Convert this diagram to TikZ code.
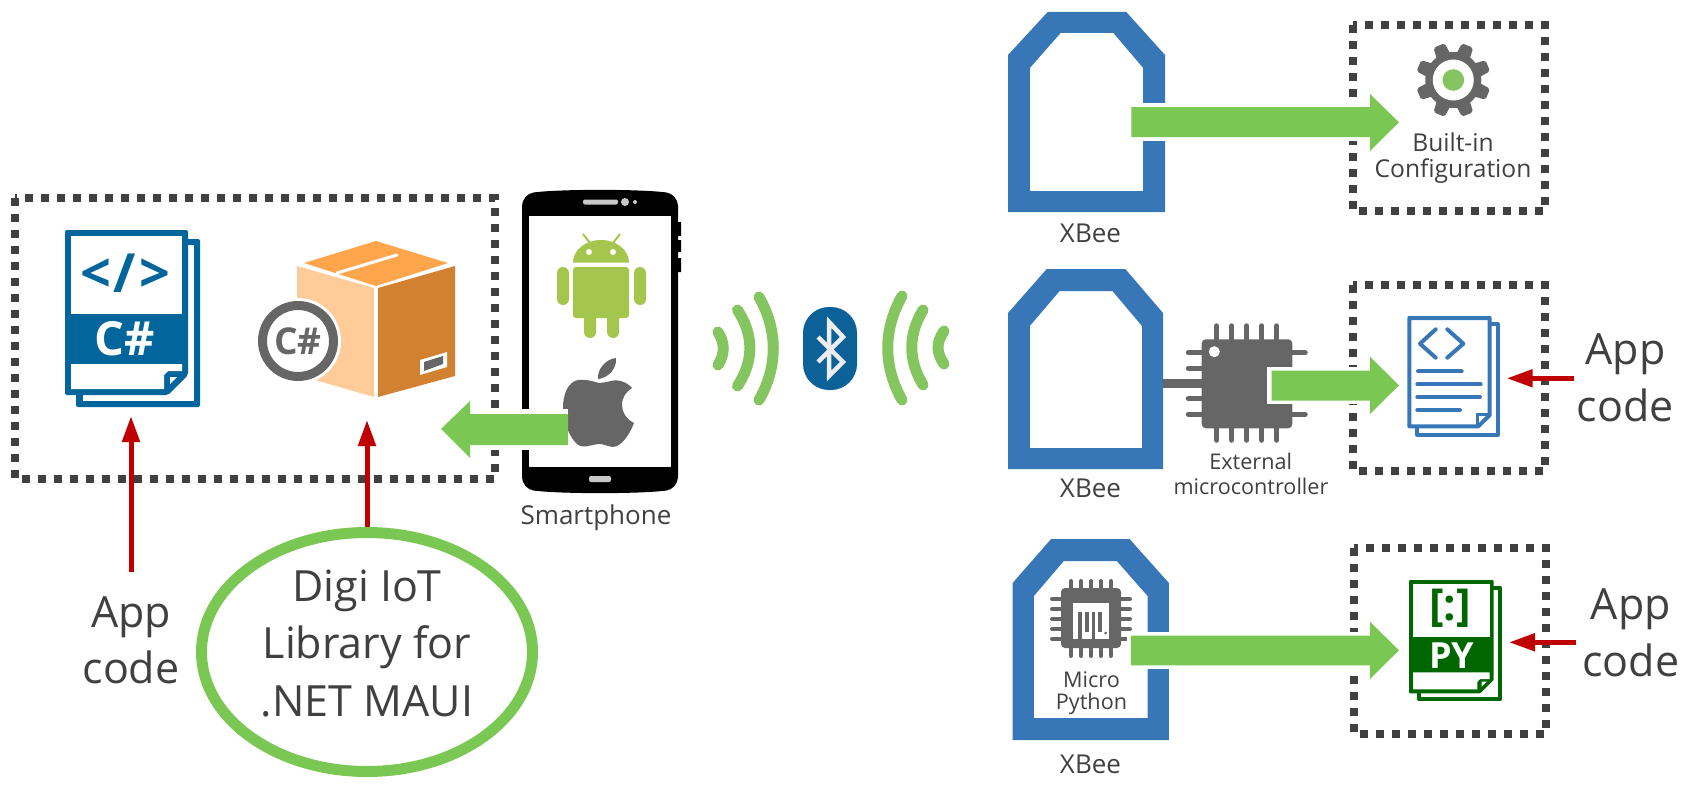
\documentclass[tikz,border=0pt]{standalone}
\usepackage{fontspec}
\setmainfont{Open Sans}
\usetikzlibrary{arrows.meta}
\definecolor{txt}{HTML}{404040}
\definecolor{dashc}{HTML}{404040}
\definecolor{xblue}{HTML}{3776B7}
\definecolor{grn}{HTML}{7AC853}
\definecolor{wave}{HTML}{85C560}
\definecolor{redc}{HTML}{C00000}
\definecolor{csblue}{HTML}{02659B}
\definecolor{grey6}{HTML}{666666}
\definecolor{droid}{HTML}{A4C64C}
\definecolor{pygrn}{HTML}{006600}
\definecolor{btblue}{HTML}{0C6199}
\definecolor{boxtop}{HTML}{FFA64D}
\definecolor{boxleft}{HTML}{FFCC99}
\definecolor{boxright}{HTML}{D18130}
\definecolor{phonebtn}{HTML}{C8C8C8}
\tikzset{
  x=1pt,y=-1pt,
  dashbox/.style={draw=dashc,line width=8pt,dash pattern=on 8pt off 8pt,fill=none},
  xbeeshape/.style={fill=xblue,even odd rule,draw=none},
  halo/.style={fill=white,draw=none},
  redarrow/.style={draw=redc,line width=5pt,-{Triangle[length=26pt,width=17pt]}},
  wavearc/.style={draw=wave,line width=11pt,line cap=round},
  label/.style={text=txt,align=center,inner sep=0pt,anchor=base},
  big/.style={label,font=\fontsize{43}{57}\selectfont},
  mid/.style={label,font=\fontsize{24.6}{26}\selectfont},
  tagx/.style={label,font=\fontsize{26}{26}\selectfont},
  small/.style={label,font=\fontsize{21.6}{26}\selectfont},
  pin/.style={draw=grey6,line width=5.5pt,line cap=round},
  pinmp/.style={draw=grey6,line width=4pt,line cap=round},
}
\newcommand{\gtooth}[1]{\fill[grey6,rotate around={#1:(1453.3,80)},rounded corners=2pt] (1445.3,62) -- (1447.3,42.7) -- (1459.3,42.7) -- (1461.3,62) -- cycle;}
\begin{document}
\begin{tikzpicture}
\useasboundingbox (0,0) rectangle (1700,800);
% left dashed box
\path[dashbox] (15,198) rectangle (495,479);
% C# doc
\fill[csblue,rounded corners=2pt] (76,239) rectangle (200,407);
\fill[white] (83,245) rectangle (194,401);
\fill[csblue,rounded corners=2pt] (65,230) -- (188,230) -- (188,375) -- (168,395) -- (65,395) -- cycle;
\fill[white] (71,236) rectangle (182,314);
\fill[white] (71,364) -- (182,364) -- (182,371) -- (168,371) -- (164,375) -- (164,389) -- (71,389) -- cycle;
\fill[white] (170,377) -- (177,377) -- (170,384) -- cycle;
\node[font=\fontsize{54}{54}\selectfont\bfseries,text=csblue,inner sep=0pt] (codetag) at (125,273) {<\kern3pt/\kern3pt>};
\node[font=\fontsize{47}{47}\selectfont\bfseries,text=white,inner sep=0pt] (cstext) at (125,339) {C\#};
% box
\fill[boxtop] (376,241) -- (448,263) -- (376,286) -- (304,263) -- cycle;
\draw[white,line width=3pt,line cap=round] (337,273) -- (397,255);
\fill[boxleft] (297,266) -- (374,288) -- (374,397) -- (315,380) -- (297,300) -- cycle;
\fill[boxright] (378,288) -- (455,266) -- (455,376) -- (378,397) -- cycle;
\fill[white] (420,360) -- (447,352) -- (447,367) -- (420,375) -- cycle;
\fill[grey6] (424,362) -- (443,356) -- (443,364) -- (424,371) -- cycle;
\fill[white] (298,341) circle[radius=43];
\draw[grey6,line width=9pt] (298,341) circle[radius=35.5];
\node[font=\fontsize{37}{37}\selectfont\bfseries,text=grey6,inner sep=0pt] (pkgcs) at (298,341) {C\#};
% phone
\fill[black,rounded corners=12pt] (522,194) .. controls (560,189) and (640,189) .. (678,194) -- (678,489) .. controls (640,494) and (560,494) .. (522,489) -- cycle;
\fill[black] (678,222) rectangle (681,236) (678,240) rectangle (681,252) (678,258) rectangle (681,272);
\fill[white] (529,216) rectangle (671,467);
\fill[phonebtn,rounded corners=2pt] (583,199.5) rectangle (618,204.5);
\fill[phonebtn] (625,202) circle[radius=4] (635,202) circle[radius=2];
\fill[phonebtn,rounded corners=2pt] (589,476) rectangle (611,482);
% android
\fill[droid] (573,262.5) arc[start angle=180,end angle=360,x radius=28,y radius=22.5] -- cycle;
\fill[white] (589,252) circle[radius=3] (613,252) circle[radius=3];
\draw[droid,line width=2pt] (583,234) -- (590,243) (620,234) -- (613,243);
\fill[droid,rounded corners=3pt] (573,267) -- (629,267) -- (629,318) -- (573,318) -- cycle;
\fill[droid,rounded corners=6pt] (557,267) rectangle (569,305) (634,267) rectangle (646,305) (584,300) rectangle (596,338) (607,300) rectangle (619,338);
% apple
\fill[grey6] (599,383) .. controls (592,381) and (585,379) .. (578,380) .. controls (568,382) and (563,394) .. (563,408) .. controls (563,422) and (570,438) .. (577,444) .. controls (583,449) and (590,445) .. (598,444) .. controls (604,443) and (610,449) .. (617,446) .. controls (625,442) and (631,431) .. (634,423) .. controls (626,419) and (622,412) .. (622,405) .. controls (622,397) and (626,392) .. (632,388) .. controls (627,382) and (618,379) .. (611,381) .. controls (606,382) and (603,383) .. (599,383) -- cycle;
\fill[grey6] (598,379) .. controls (597,369) and (606,359) .. (616,358) .. controls (617,369) and (608,378) .. (598,379) -- cycle;
% left green arrow
\fill[halo] (568,409) rectangle (470,450);
\fill[grn] (568,414) -- (470,414) -- (470,401) -- (441,429) -- (470,458) -- (470,445) -- (568,445) -- cycle;
% red arrows
\coordinate (appl) at (131,572); \coordinate (cdoc) at (131,416);
\coordinate (libtop) at (367,528); \coordinate (pkgb) at (367,420);
\draw[redarrow] (appl) -- (cdoc);
\draw[redarrow] (libtop) -- (pkgb);
% labels left
\node[tagx] (smartphone) at (596,524) {Smartphone};
\node[big] (app1) at (131,627) {App};
\node[big] (code1) at (131,683) {code};
\draw[grn,line width=11pt] (367,652) ellipse[x radius=165.5,y radius=119.5];
\node[big] (lib1) at (367,601) {Digi IoT};
\node[big] (lib2) at (367,658) {Library for};
\node[big] (lib3) at (367,716) {.NET MAUI};
% waves
\draw[wavearc] (718,332) .. controls (725,343) and (725,354) .. (718,365);
\draw[wavearc] (737.5,310) .. controls (754,335) and (754,361) .. (737.5,386);
\draw[wavearc] (759,297) .. controls (778,330) and (778,367) .. (759,400);
\draw[wavearc] (944,331) .. controls (936,343) and (936,352) .. (944,364);
\draw[wavearc] (923,310) .. controls (908,335) and (908,360) .. (923,385);
\draw[wavearc] (902,296) .. controls (883,330) and (883,366) .. (902,400);
% bluetooth
\fill[btblue,rounded corners=26pt] (803,307) rectangle (857,390);
\draw[white!93!black,line width=4.5pt,miter limit=10] (818,337) -- (843,362) -- (829,376) -- (829,322) -- (843,337) -- (818,362);
% XBee 1
\fill[xbeeshape] (1047.7,12) -- (1126.3,12) -- (1165,55) -- (1165,212) -- (1008,212) -- (1008,55) -- cycle (1060.6,33) -- (1113.4,33) -- (1143.2,68) -- (1143.2,191) -- (1029.8,191) -- (1029.8,68) -- cycle;
\path[dashbox] (1352.7,25) rectangle (1545,210.7);
\gtooth{22.5}\gtooth{67.5}\gtooth{112.5}\gtooth{157.5}\gtooth{202.5}\gtooth{247.5}\gtooth{292.5}\gtooth{337.5}
\fill[grey6] (1453.3,80) circle[radius=28];
\fill[white] (1453.3,80) circle[radius=20.5];
\fill[wave] (1453.3,80) circle[radius=10.8];
\fill[halo] (1127,103) rectangle (1370,141);
\fill[grn] (1131.3,107) -- (1370,107) -- (1370,94) -- (1399,122.3) -- (1370,151) -- (1370,137) -- (1131.3,137) -- cycle;
\node[mid] (builtin) at (1453,151) {Built-in};
\node[mid] (config) at (1453,177.7) {Configuration};
\node[tagx] (xb1) at (1090.5,242) {XBee};
% XBee 2
\fill[xbeeshape] (1046.7,269) -- (1125.3,269) -- (1163,313) -- (1163,469) -- (1008,469) -- (1008,313) -- cycle (1059.6,291) -- (1112.4,291) -- (1142,326) -- (1142,448) -- (1029.8,448) -- (1029.8,326) -- cycle;
\path[dashbox] (1352.7,285) rectangle (1545,470.7);
\fill[grey6] (1163,379.3) rectangle (1204,387.7);
\fill[grey6,rounded corners=4pt] (1201.7,339.3) rectangle (1292.3,428.3);
\draw[pin] (1216.7,326) -- (1216.7,440) (1231.7,326) -- (1231.7,440) (1246.7,326) -- (1246.7,440) (1261.7,326) -- (1261.7,440) (1276.7,326) -- (1276.7,440);
\draw[pin] (1188.5,352.7) -- (1202,352.7) (1188.5,368.3) -- (1202,368.3) (1188.5,398.7) -- (1202,398.7) (1188.5,414.3) -- (1202,414.3) (1292,352.7) -- (1305,352.7) (1292,414.3) -- (1305,414.3);
\fill[white] (1214.3,351.7) circle[radius=5.5];
\fill[halo] (1267.3,366.7) rectangle (1370,404.3);
\fill[grn] (1271.7,370.7) -- (1370,370.7) -- (1370,356.7) -- (1399,385.3) -- (1370,414) -- (1370,400.7) -- (1271.7,400.7) -- cycle;
% blue doc
\draw[xblue,line width=4pt,line join=round] (1489.7,324.3) -- (1497.7,324.3) -- (1497.7,434.7) -- (1417.3,434.7) -- (1417.3,426.3);
\draw[xblue,line width=4pt,line join=round] (1409.3,318) -- (1489.7,318) -- (1489.7,415) -- (1478.3,426.3) -- (1409.3,426.3) -- cycle;
\draw[xblue,line width=3pt] (1477.3,426.3) -- (1477.3,414.3) -- (1489.7,414.3);
\draw[xblue,line width=4pt,line cap=round,line join=round] (1435.7,329.3) -- (1420,343.7) -- (1435.7,357.7) (1447.3,329.3) -- (1463.3,343.7) -- (1447.3,357.7);
\draw[xblue,line width=4pt,line cap=round] (1418,371.3) -- (1461.7,371.3) (1417.3,384.3) -- (1480.7,384.3) (1417.3,397) -- (1480,397) (1417.3,410) -- (1460,410);
\coordinate (app2s) at (1574.2,378.3); \coordinate (app2t) at (1506.7,378.3);
\draw[redarrow] (app2s) -- (app2t);
\node[big] (app2) at (1625.4,364) {App};
\node[big] (code2) at (1625.4,421) {code};
\node[small] (ext) at (1250.7,469.3) {External};
\node[small] (micro) at (1251,494.3) {microcontroller};
\node[tagx] (xb2) at (1090.5,497) {XBee};
% XBee 3
\fill[xbeeshape] (1051.1,539) -- (1129.5,539) -- (1168.9,583) -- (1168.9,740) -- (1012.6,740) -- (1012.6,583) -- cycle (1063.8,561) -- (1116.8,561) -- (1147.6,596) -- (1147.6,718) -- (1033.9,718) -- (1033.9,596) -- cycle;
\path[dashbox] (1354,548) rectangle (1546,734);
\draw[pinmp] (1071,581) -- (1071,656) (1081,581) -- (1081,656) (1091,581) -- (1091,656) (1101,581) -- (1101,656) (1111,581) -- (1111,656);
\draw[pinmp] (1052,599) -- (1130,599) (1052,609) -- (1130,609) (1052,619) -- (1130,619) (1052,629) -- (1130,629) (1052,639) -- (1130,639);
\fill[grey6,rounded corners=4pt] (1061,588) rectangle (1121,648);
\fill[white] (1073,603) rectangle (1109,639);
\draw[grey6,line width=3.5pt] (1080,639) -- (1080,612) (1087,632) -- (1087,612) (1093.5,639) -- (1093.5,612) (1100,632) -- (1100,612);
\fill[grey6] (1105.7,633) circle[radius=1.5];
\node[small] (mp1) at (1091.5,687) {Micro};
\node[small] (mp2) at (1091.5,709) {Python};
\fill[halo] (1127,631.7) rectangle (1370,669.3);
\fill[grn] (1130.9,635.7) -- (1370,635.7) -- (1370,621.7) -- (1399,650.3) -- (1370,679) -- (1370,665.3) -- (1130.9,665.3) -- cycle;
% py doc
\draw[pygrn,line width=4pt,line join=round] (1491.7,587.7) -- (1500,587.7) -- (1500,699.3) -- (1419,699.3) -- (1419,691.3);
\fill[pygrn,rounded corners=1pt] (1409,580) -- (1493.7,580) -- (1493.7,680) -- (1480.3,693.3) -- (1409,693.3) -- cycle;
\fill[white] (1413,584) rectangle (1489.7,637.3);
\fill[white] (1413,672.3) -- (1489.7,672.3) -- (1489.7,679) -- (1480,679) -- (1477.3,682) -- (1477.3,689.3) -- (1413,689.3) -- cycle;
\fill[white] (1481.7,681.7) -- (1486.7,681.7) -- (1481.7,686.7) -- cycle;
\node[font=\fontsize{44}{44}\selectfont\bfseries,text=pygrn,inner sep=0pt] (pybr) at (1450,608) {[:]};
\node[font=\fontsize{36}{36}\selectfont\bfseries,text=white,inner sep=0pt] (pyt) at (1451.7,655.5) {PY};
\coordinate (app3s) at (1575.6,642.3); \coordinate (app3t) at (1509,642.3);
\draw[redarrow] (app3s) -- (app3t);
\node[big] (app3) at (1630.9,619) {App};
\node[big] (code3) at (1630.9,676) {code};
\node[tagx] (xb3) at (1090.5,773) {XBee};
\end{tikzpicture}
\end{document}
